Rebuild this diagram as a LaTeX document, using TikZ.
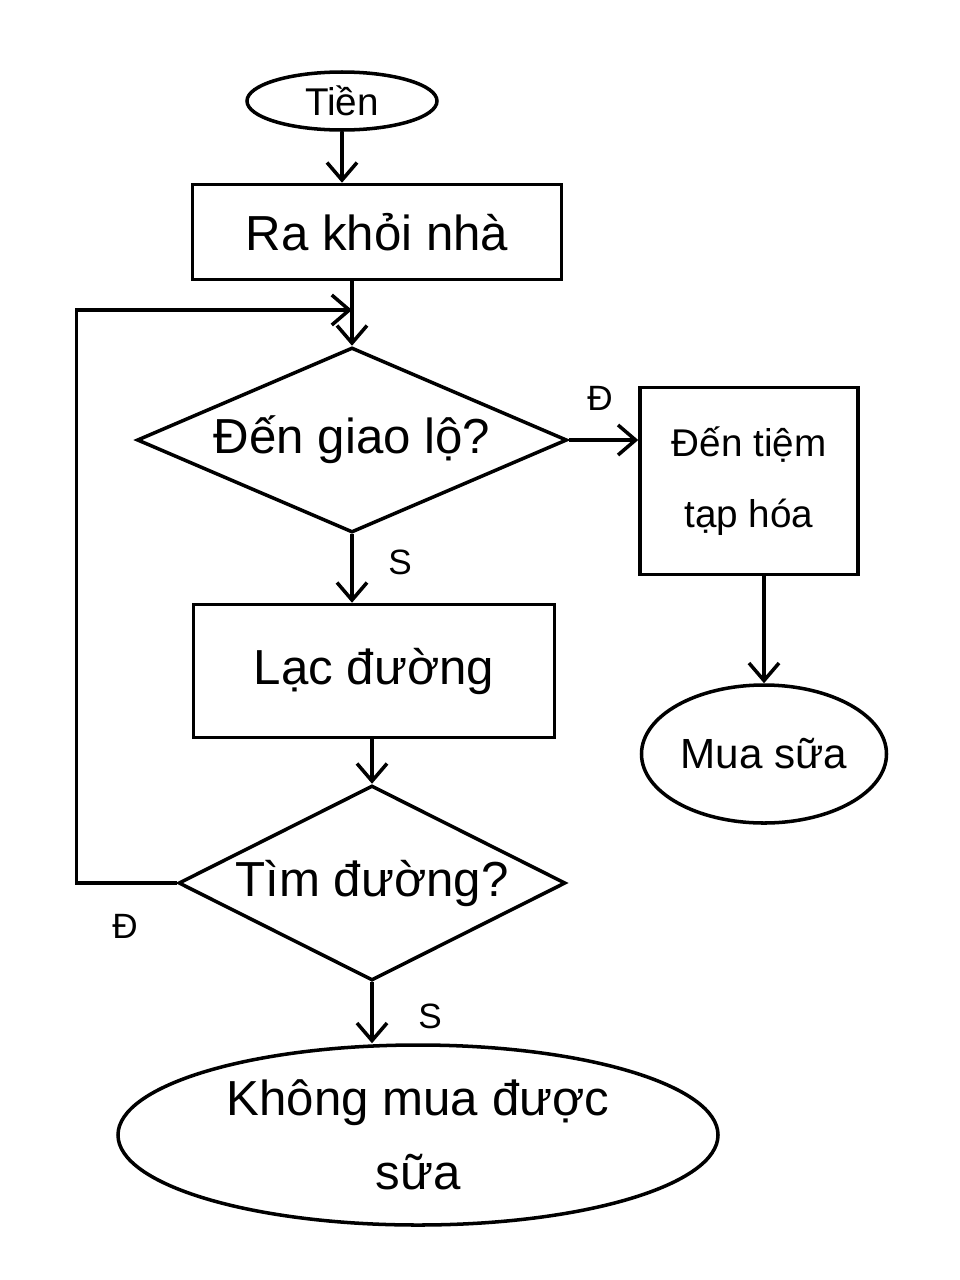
\documentclass[tikz,border=0pt]{standalone}
\usepackage{fontspec}
\setmainfont{Liberation Sans}
\usetikzlibrary{positioning,shapes.geometric,arrows.meta}
\tikzset{
  blk/.style={draw, line width=2pt, inner sep=0pt, align=center},
  arr/.style={line width=2pt, -{Straight Barb[length=3.5mm, width=6mm, line width=2pt]}}}

\begin{document}
\begin{tikzpicture}[x=0.2mm, y=-0.2mm,
  term/.style={blk, ellipse},
  proc/.style={blk, rectangle, font=\fontsize{28}{34}\selectfont},
  dec/.style={blk, diamond, font=\fontsize{28}{34}\selectfont},
  lbl/.style={font=\fontsize{20}{24}\selectfont}]
\useasboundingbox (0,0) rectangle (960,1280);
\node[term, minimum width=3.8cm, minimum height=1.16cm, font=\fontsize{22}{26}\selectfont] (start) at (342,101) {Tiền};
\node[proc, minimum width=7.38cm, minimum height=1.9cm] (leave) at (377,232) {Ra khỏi nhà};
\node[dec, aspect=2.32, minimum width=8.6cm, minimum height=3.7cm] (cross) at (352,440) {Đến giao lộ?};
\node[proc, minimum width=4.36cm, minimum height=3.74cm, font=\fontsize{22}{40}\selectfont] (shop) at (749,481) {Đến tiệm\\tạp hóa};
\node[term, minimum width=4.9cm, minimum height=2.76cm, font=\fontsize{24}{28}\selectfont] (buy) at (764,754) {Mua sữa};
\node[proc, minimum width=7.22cm, minimum height=2.66cm] (lost) at (374,671) {Lạc đường};
\node[dec, aspect=1.98, minimum width=7.74cm, minimum height=3.9cm] (find) at (372,883) {Tìm đường?};
\node[term, minimum width=12cm, minimum height=3.6cm, font=\fontsize{28}{42}\selectfont] (fail) at (418,1135) {Không mua được\\sữa};
\coordinate (join) at (cross.north |- 0,310);
% flow
\draw[arr] (start.south) -- (start.south |- leave.north);
\draw[arr] (cross.north |- leave.south) -- (cross.north);
\draw[arr] (cross.east) -- (cross.east -| shop.west);
\draw[arr] (buy.north |- shop.south) -- (buy.north);
\draw[arr] (cross.south) -- (cross.south |- lost.north);
\draw[arr] (find.north |- lost.south) -- (find.north);
\draw[arr] (find.south) -- (find.south |- fail.north);
\draw[arr] (find.west) -- ++(-100,0) |- (join);
\node[lbl] (yes1) at (600,398) {Đ};
\node[lbl] (no1) at (400,562) {S};
\node[lbl] (yes2) at (125,926) {Đ};
\node[lbl] (no2) at (430,1016) {S};
\end{tikzpicture}
\end{document}
